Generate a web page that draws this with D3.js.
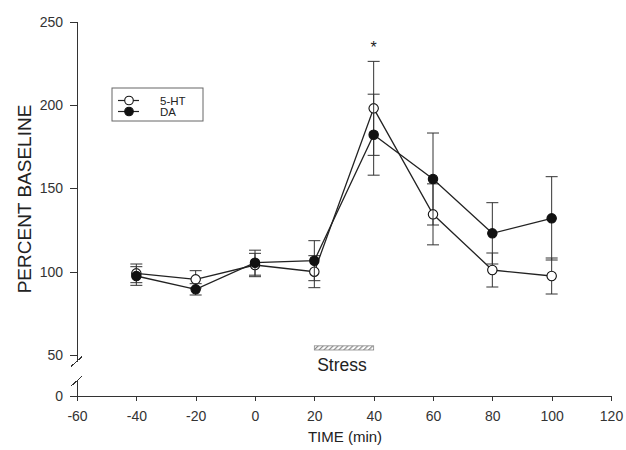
<!DOCTYPE html>
<meta charset="utf-8">
<style>
body { margin: 0; background: #fff; }
text { font-family: "Liberation Sans", Arial, sans-serif; fill: #222; }
.axis path, .axis line { stroke: #333; shape-rendering: crispEdges; }
.axis text { font-size: 14px; fill: #333; }
.err line { stroke: #333; stroke-width: 1; }
.series path { fill: none; stroke: #222; stroke-width: 1.3; }
</style>
<svg width="626" height="450"></svg>
<script src="https://cdn.jsdelivr.net/npm/d3@7/dist/d3.min.js"></script>
<script>

var time = [-40, -20, 0, 20, 40, 60, 80, 100];
var ht = [99, 95.4, 104, 100, 198, 134.4, 101, 97.4];
var htErr = [5.6, 5.2, 7, 9.6, 28.2, 18.3, 10.2, 10.8];
var da = [97.4, 89.4, 105.4, 106.6, 182.2, 155.6, 123, 132];
var daErr = [5.6, 3.4, 7.5, 12, 24.3, 27.6, 18.4, 25];
var xTicks = [-60, -40, -20, 0, 20, 40, 60, 80, 100, 120];
var yTicks = [0, 50, 100, 150, 200, 250];
var stressWindow = [20, 40];

var svg = d3.select("svg");

var x = d3.scaleLinear().domain([-60, 120]).range([77, 611]);
// broken axis: 0..50 squeezed
var y = d3.scaleLinear().domain([0, 50, 250]).range([396, 355, 21.7]);

// hatch for the stress bar
var defs = svg.append("defs");
defs.append("pattern")
    .attr("id", "hatch")
    .attr("patternUnits", "userSpaceOnUse")
    .attr("width", 3.5).attr("height", 3.5)
    .attr("patternTransform", "rotate(45)")
  .append("rect")
    .attr("width", 1.2).attr("height", 3.5)
    .attr("fill", "#888");

// x axis
svg.append("g")
    .attr("class", "axis")
    .attr("transform", "translate(0," + y(0) + ")")
    .call(d3.axisBottom(x).tickValues(xTicks).tickFormat(function(d) { return String(d); })
      .tickSize(5).tickSizeOuter(5).tickPadding(7))
    .selectAll("text").attr("dy", "0.95em");

// y axis
var yAxis = svg.append("g")
    .attr("class", "axis")
    .attr("transform", "translate(" + x(-60) + ",0)")
    .call(d3.axisLeft(y).tickValues(yTicks).tickSize(7).tickSizeOuter(0).tickPadding(7));
yAxis.select(".domain").remove();
yAxis.append("line").attr("x1", 0).attr("x2", 0).attr("y1", y(250)).attr("y2", y(42));
yAxis.append("line").attr("x1", 0).attr("x2", 0).attr("y1", y(18)).attr("y2", y(0));
yAxis.append("line").attr("x1", -6).attr("x2", 5).attr("y1", y(36)).attr("y2", y(48));
yAxis.append("line").attr("x1", -6).attr("x2", 5).attr("y1", y(12)).attr("y2", y(24));

// axis titles
svg.append("text")
    .attr("transform", "translate(31,199) rotate(-90)")
    .attr("text-anchor", "middle")
    .style("font-size", "19px")
    .text("PERCENT BASELINE");

svg.append("text")
    .attr("x", 345)
    .attr("y", 442)
    .attr("text-anchor", "middle")
    .style("font-size", "15px")
    .text("TIME (min)");

// stress bar
svg.append("rect")
    .attr("x", x(stressWindow[0]))
    .attr("y", y(55.5))
    .attr("width", x(stressWindow[1]) - x(stressWindow[0]))
    .attr("height", y(53) - y(55.5))
    .attr("fill", "url(#hatch)")
    .attr("stroke", "#888")
    .attr("stroke-width", 0.8);

svg.append("text")
    .attr("x", (x(stressWindow[0]) + x(stressWindow[1])) / 2 - 2)
    .attr("y", 371)
    .attr("text-anchor", "middle")
    .style("font-size", "17.5px")
    .text("Stress");

function drawSeries(vals, errs, filled) {
  var g = svg.append("g").attr("class", "series");
  var pts = time.map(function(t, i) { return {t: t, v: vals[i], e: errs[i]}; });

  var eb = g.append("g").attr("class", "err")
      .selectAll("g").data(pts).enter().append("g");
  eb.append("line")
      .attr("x1", function(d) { return x(d.t); })
      .attr("x2", function(d) { return x(d.t); })
      .attr("y1", function(d) { return y(d.v + d.e); })
      .attr("y2", function(d) { return y(d.v - d.e); });
  eb.append("line")
      .attr("x1", function(d) { return x(d.t) - 6; })
      .attr("x2", function(d) { return x(d.t) + 6; })
      .attr("y1", function(d) { return y(d.v + d.e); })
      .attr("y2", function(d) { return y(d.v + d.e); });
  eb.append("line")
      .attr("x1", function(d) { return x(d.t) - 6; })
      .attr("x2", function(d) { return x(d.t) + 6; })
      .attr("y1", function(d) { return y(d.v - d.e); })
      .attr("y2", function(d) { return y(d.v - d.e); });

  g.append("path")
      .datum(pts)
      .attr("d", d3.line().x(function(d) { return x(d.t); }).y(function(d) { return y(d.v); }));

  g.selectAll("circle").data(pts).enter().append("circle")
      .attr("cx", function(d) { return x(d.t); })
      .attr("cy", function(d) { return y(d.v); })
      .attr("r", 4.7)
      .attr("fill", filled ? "#111" : "#fff")
      .attr("stroke", "#111")
      .attr("stroke-width", 1.1);
}

drawSeries(ht, htErr, false);
drawSeries(da, daErr, true);

// significance mark
svg.append("text")
    .attr("x", x(40))
    .attr("y", 53)
    .attr("text-anchor", "middle")
    .style("font-size", "16px")
    .text("*");

// legend
var lg = svg.append("g").attr("transform", "translate(112,88)");
lg.append("rect")
    .attr("width", 91).attr("height", 33)
    .attr("fill", "#fff")
    .attr("stroke", "#666")
    .attr("stroke-width", 1);
[["5-HT", false], ["DA", true]].forEach(function(item, i) {
  var yy = 12.5 + i * 11;
  lg.append("line")
      .attr("x1", 6).attr("x2", 27).attr("y1", yy).attr("y2", yy)
      .attr("stroke", "#222").attr("stroke-width", 1.2);
  lg.append("circle")
      .attr("cx", 17).attr("cy", yy).attr("r", 4.3)
      .attr("fill", item[1] ? "#111" : "#fff")
      .attr("stroke", "#111").attr("stroke-width", 1.1);
  lg.append("text")
      .attr("x", 48).attr("y", yy + 4)
      .style("font-size", "11.5px")
      .text(item[0]);
});

</script>
